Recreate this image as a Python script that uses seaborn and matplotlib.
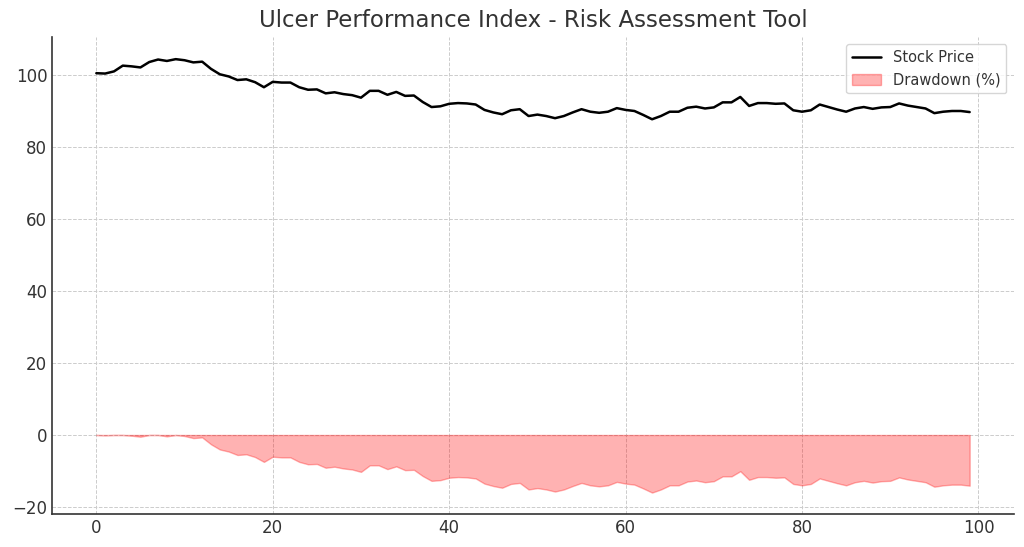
import numpy as np
import pandas as pd
import matplotlib
matplotlib.use("Agg")
import matplotlib.pyplot as plt
import seaborn as sns

# price, one value per day (0..99)
days = list(range(100))
price = [100.5, 100.4, 101.0, 102.6, 102.4, 102.1, 103.6, 104.3, 103.9, 104.4,
         104.1, 103.5, 103.7, 101.7, 100.2, 99.6, 98.6, 98.8, 98.0, 96.6,
         98.1, 97.9, 97.9, 96.6, 95.9, 96.0, 94.9, 95.2, 94.7, 94.4,
         93.7, 95.6, 95.6, 94.5, 95.3, 94.2, 94.3, 92.5, 91.1, 91.3,
         92.0, 92.2, 92.1, 91.8, 90.3, 89.6, 89.1, 90.2, 90.5, 88.6,
         89.0, 88.6, 88.0, 88.6, 89.6, 90.5, 89.8, 89.5, 89.8, 90.8,
         90.3, 90.0, 88.9, 87.7, 88.6, 89.8, 89.8, 90.9, 91.2, 90.7,
         91.0, 92.4, 92.4, 93.9, 91.4, 92.2, 92.2, 92.0, 92.1, 90.2,
         89.8, 90.2, 91.8, 91.1, 90.4, 89.8, 90.7, 91.1, 90.6, 91.0,
         91.1, 92.1, 91.5, 91.1, 90.7, 89.4, 89.8, 90.0, 90.0, 89.7]

df = pd.DataFrame({"day": days, "price": price})
# drawdown from running peak, in percent
df["drawdown"] = (df["price"] / df["price"].cummax() - 1) * 100

sns.set_style("white")
plt.rcParams.update({
    "text.color": "#333333",
    "axes.labelcolor": "#333333",
    "axes.edgecolor": "#333333",
    "xtick.color": "#333333",
    "ytick.color": "#333333",
    "xtick.direction": "in",
    "ytick.direction": "in",
    "font.family": ["DejaVu Sans"],
})

fig, ax = plt.subplots(figsize=(10.24, 5.47), dpi=100)
fig.subplots_adjust(left=0.051, right=0.99, top=0.932, bottom=0.06)

sns.lineplot(data=df, x="day", y="price", ax=ax, color="black", linewidth=1.8,
             label="Stock Price")
ax.fill_between(df["day"], df["drawdown"], 0, color="red", alpha=0.3,
                label="Drawdown (%)")

ax.set_title("Ulcer Performance Index - Risk Assessment Tool", fontsize=16.5,
             color="#333333", pad=7)
ax.set_xlabel("")
ax.set_ylabel("")
ax.set_xlim(-5, 104)
ax.set_ylim(-22, 110.5)
ax.tick_params(labelsize=12, length=5, width=1)
ax.grid(True, linestyle="--", linewidth=0.7, color="#cccccc")
for s in ["top", "right"]:
    ax.spines[s].set_visible(False)
ax.spines["left"].set_linewidth(1.2)
ax.spines["bottom"].set_linewidth(1.2)
ax.legend(loc="upper right", fontsize=10.5, frameon=True, edgecolor="#cccccc")

fig.savefig("out.png", dpi=100)
